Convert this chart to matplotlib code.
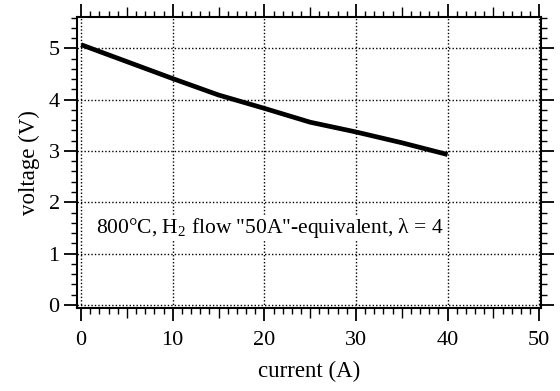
import matplotlib
matplotlib.use("Agg")
import matplotlib.pyplot as plt
import numpy as np

current = [0, 5, 10, 15, 20, 25, 30, 35, 40]
voltage = [5.07, 4.74, 4.41, 4.09, 3.83, 3.56, 3.37, 3.16, 2.93]
x_ticks = [0, 10, 20, 30, 40, 50]
y_ticks = [0, 1, 2, 3, 4, 5]
annotation = '800°C, H$_2$ flow "50A"-equivalent, λ = 4'

plt.rcParams['font.family'] = ['Liberation Serif', 'DejaVu Serif']
plt.rcParams['mathtext.fontset'] = 'custom'
plt.rcParams['mathtext.rm'] = 'Liberation Serif'

fig = plt.figure(figsize=(5.6, 3.91), dpi=100)
ax = fig.add_axes([77/560, 1 - 308/391, (541-77)/560, (308-17)/391])

ax.plot(current, voltage, color='black', lw=3.4, solid_capstyle='butt', zorder=3)

ax.set_xlim(-0.45, 50.2)
ax.set_ylim(-0.06, 5.61)
ax.set_xticks(x_ticks)
ax.set_yticks(y_ticks)
ax.set_xticks([i for i in range(0, 51) if i % 5 != 0], minor=True)
ax.set_yticks(np.arange(0, 5.61, 0.2), minor=True)

ax.grid(True, which='major', color='black', linestyle=(0, (1, 1.5)), linewidth=1.0)
for s in ax.spines.values():
    s.set_linewidth(1.5)

ax.tick_params(which='major', direction='out', length=9.5, width=1.3,
               top=True, right=True, labelsize=16, pad=3)
ax.tick_params(which='minor', direction='out', length=4.5, width=1.0,
               top=True, right=True)
ax.tick_params(axis='x', which='major', pad=7)

for loc in ('bottom', 'top'):
    sec = ax.secondary_xaxis(loc)
    sec.set_xticks([5, 15, 25, 35, 45])
    sec.tick_params(direction='out', length=7.5, width=1.0, labelbottom=False, labeltop=False)
    sec.spines[loc].set_visible(False)

ax.set_xlabel('current (A)', fontsize=16.5, labelpad=8)
ax.set_ylabel('voltage (V)', fontsize=16.5, labelpad=6)

ax.text(1.6, 1.5, annotation, fontsize=15.5, va='center', ha='left', zorder=4,
        bbox=dict(facecolor='white', edgecolor='none', pad=0.5))

fig.savefig('out.png', dpi=100)
